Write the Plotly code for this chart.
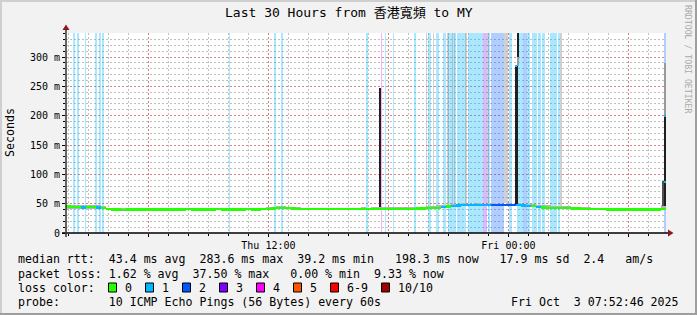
import pandas as pd
import plotly.graph_objects as go

# ---------------- data ----------------
START = "2025-10-02 01:52:46"
END = "2025-10-03 07:52:46"
STEP_MIN = 15
Y_TOP = 341

TITLE = "Last 30 Hours from 香港寬頻 to MY"
Y_LABEL = "Seconds"
WATERMARK = "RRDTOOL / TOBI OETIKER"

x_tick_times = ["2025-10-02 06:00", "2025-10-02 12:00", "2025-10-02 18:00",
                "2025-10-03 00:00", "2025-10-03 06:00"]
x_tick_text = ["", "Thu 12:00", "", "Fri 00:00", ""]
y_tick_vals = [0, 50, 100, 150, 200, 250, 300]
y_tick_text = ["0", "50 m", "100 m", "150 m", "200 m", "250 m", "300 m"]

# median rtt (ms), one value per 15-minute step
median_ms = [45.5, 44.5, 45, 44, 44.5, 45, 44, 43.5,
             41.0, 40.5, 40.5, 40.2, 40.5, 40.3, 40.5, 40.6, 40.4, 40.5, 40.3,
             40.5, 40.6, 40.5, 40.4, 40.5, 40.8, 40.6, 40.5, 40.7, 40.5, 40.6,
             40.8, 40.6, 40.5, 40.7, 40.6, 40.5, 40.8, 40.6, 40.7, 40.9, 41.0,
             42.0, 42.5, 43.0, 42.5, 42.0, 41.5,
             41.2, 41.0, 40.8, 41.0, 40.9, 41.2, 41.0, 40.8, 41.0, 41.1, 40.9,
             41.0, 41.3, 41.0, 41.2, 41.5,
             41.5, 41.3, 41.0, 41.2, 41.5, 41.8, 41.6, 42.0, 42.2, 42.5, 43.0, 43.5,
             44.5, 45.5, 46.5,
             47.5, 48, 48, 48, 48, 48, 48, 48.2, 48.2, 48.2, 48.2, 48.2,
             48.0,
             47.5, 47, 46, 45,
             44, 43.5, 43.5, 43, 42.8, 42.5, 42.2, 42, 41.8, 41.5, 41.3, 41,
             40.8, 40.6, 40.5, 40.5, 40.4, 40.5, 40.5, 40.4, 40.5, 40.5, 40.4, 40.5,
             41]

smoke_lo_ms = [41, 41, 41.5, 41, 41, 41.5, 41, 41,
               39.8, 39.6, 39.5, 39.4, 39.6, 39.5, 39.6, 39.7, 39.5, 39.6, 39.4,
               39.6, 39.7, 39.6, 39.5, 39.6, 39.8, 39.7, 39.6, 39.8, 39.6, 39.7,
               39.8, 39.7, 39.6, 39.8, 39.7, 39.6, 39.9, 39.7, 39.8, 40.0, 40.1,
               40.5, 41, 41.5, 41, 40.5, 40.2,
               40.0, 39.8, 39.6, 39.8, 39.7, 40.0, 39.8, 39.6, 39.8, 39.9, 39.7,
               39.8, 40.1, 39.8, 40.0, 40.3,
               40.3, 40.1, 39.8, 40.0, 40.3, 40.5, 40.4, 40.7, 40.9, 41.2, 41.6, 42.0,
               42.8, 43.5, 44.5,
               46.0, 46.5, 46.5, 46.5, 46.5, 46.5, 46.5, 46.8, 46.8, 46.8, 46.8, 46.8,
               46.5,
               45.5, 44.5, 43.5, 42.5,
               41.8, 41.5, 41.3, 41.0, 40.8, 40.6, 40.4, 40.2, 40.0, 39.8, 39.7, 39.6,
               39.5, 39.4, 39.3, 39.3, 39.2, 39.3, 39.3, 39.2, 39.3, 39.3, 39.2, 39.3,
               39.5]

smoke_hi_ms = [48, 47.5, 48, 47, 47.5, 48, 47, 46,
               43, 42, 42, 42, 42.5, 42, 42, 42, 42, 42.5, 42,
               42, 42, 43, 42, 42, 42.5, 42, 42, 42, 42, 42.5,
               42, 42, 42, 42, 42.5, 42, 42, 43, 42.5, 43, 43.5,
               45, 45.5, 46, 45, 44.5, 44,
               43, 42.5, 42.5, 42.5, 43, 43, 42.5, 42.5, 43, 43, 42.5,
               43, 43.5, 43, 43.5, 45,
               44, 44, 43.5, 44, 44.5, 44.5, 44, 45, 45, 45.5, 46, 47,
               47.5, 48.5, 49.5,
               50, 50.5, 50, 50, 50.5, 50, 50, 50.5, 50, 50, 50.5, 50,
               51,
               50, 50, 49, 48.5,
               47.5, 47, 46.5, 46, 46, 45.5, 45, 44.5, 44, 43.5, 43, 42.5,
               42, 42, 41.5, 41.5, 41.5, 41.5, 41.5, 41.5, 41.5, 41.5, 41.5, 41.5,
               48]

# packet-loss level (index into loss legend) per 15-minute step
loss_level = [int(c) for c in
              "00010010"
              "000000000000000000000000000000000"
              "000000"
              "0000000000000000"
              "000000000000"
              "101"
              "111111122222"
              "1"
              "1101"
              "000000000000"
              "000000000000"
              "0"]

# loss bars spanning the full graph height (minutes after START)
band_start_min = [21, 33, 57, 87, 99, 108, 489, 624, 645, 900, 945, 957, 981,
                  1044, 1086, 1110, 1131, 1146, 1173, 1206, 1251, 1266, 1275,
                  1329, 1353, 1371, 1383, 1398, 1416, 1428, 1452, 1476, 1794]
band_end_min = [27, 39, 60, 93, 105, 114, 492, 630, 651, 906, 948, 960, 984,
                1050, 1095, 1119, 1140, 1170, 1200, 1251, 1263, 1272, 1314,
                1338, 1371, 1383, 1392, 1413, 1425, 1437, 1473, 1482, 1800]
band_level = [1, 1, 1, 1, 1, 1, 1, 1, 1, 1, 4, 1, 1,
              1, 1, 1, 1, 1, 1, 1, 3, 1, 2,
              1, 1, 2, 1, 1, 1, 1, 1, 1, 2]

# smoke reaching beyond the top of the graph (minutes after START, duration)
tall_smoke_min = [1081, 1101, 1146, 1158, 1165, 1201, 1266, 1320, 1485]
tall_smoke_dur = [3, 3, 5, 3, 3, 6, 4, 12, 5]

# rtt spikes (minutes after START)
spike_min = [943, 1352, 1357, 1356, 1792, 1797, 1798]
spike_dur = [3, 5, 3, 3, 9, 5, 3]
spike_lo_ms = [44, 48, 300, 285, 46, 46, 200]
spike_hi_ms = [248, 285, 345, 300, 88, 200, 290]
spike_kind = ["core", "core", "core", "halo", "mid", "core", "halo"]

mark_min = [1350, 1797, 1796]
mark_ms = [285, 200, 88]

rtt_line = "median rtt:  43.4 ms avg  283.6 ms max  39.2 ms min   198.3 ms now   17.9 ms sd  2.4   am/s"
loss_line = "packet loss: 1.62 % avg  37.50 % max   0.00 % min  9.33 % now"
probe_line = "probe:       10 ICMP Echo Pings (56 Bytes) every 60s"
stamp = "Fri Oct  3 07:52:46 2025"
loss_labels = ["0", "1", "2", "3", "4", "5", "6-9", "10/10"]

# ---------------- styles ----------------
LOSS_COLORS = ["#26ff00", "#00b8ff", "#0059ff", "#7e00ff", "#ff00ff",
               "#ff5500", "#ff0000", "#a10000"]
LOSS_BAND = ["rgba(38,255,0,0.33)", "rgba(0,184,255,0.33)", "rgba(0,89,255,0.30)",
             "rgba(126,0,255,0.28)", "rgba(255,0,255,0.33)", "rgba(255,85,0,0.33)",
             "rgba(255,0,0,0.33)", "rgba(161,0,0,0.33)"]
SPIKE_COLORS = {"core": "#202020", "mid": "#505050", "halo": "#9a9a9a"}
MONO = "DejaVu Sans Mono, Noto Sans CJK TC, monospace"

W_PX, H_PX = 697, 315
L, R, T, B = 66, 666, 33, 233
PW, PH = R - L, B - T


def PX(x):
    return (x - L) / PW


def PY(y):
    return (B - y) / PH


t0 = pd.Timestamp(START)
MS_PER_MIN = 60000


def at(minutes):
    return t0 + pd.to_timedelta(minutes, unit="m")


n = len(median_ms)
centers = [at((i + 0.5) * STEP_MIN) for i in range(n)]
step_w = [STEP_MIN * MS_PER_MIN] * n

fig = go.Figure()

# loss bars
fig.add_trace(go.Bar(
    x=[at((s + e) / 2) for s, e in zip(band_start_min, band_end_min)],
    y=[Y_TOP + 10] * len(band_start_min), base=0,
    width=[(e - s) * MS_PER_MIN for s, e in zip(band_start_min, band_end_min)],
    marker=dict(color=[LOSS_BAND[l] for l in band_level], line=dict(width=0)),
    hoverinfo="skip", showlegend=False))

# tall smoke
tall_base = []
for m in tall_smoke_min:
    idx = min(int(m // STEP_MIN), n - 1)
    tall_base.append(smoke_hi_ms[idx])
fig.add_trace(go.Bar(
    x=[at(m) for m in tall_smoke_min],
    y=[Y_TOP + 10 - b for b in tall_base], base=tall_base,
    width=[d * MS_PER_MIN for d in tall_smoke_dur],
    marker=dict(color="rgba(150,150,150,0.45)", line=dict(width=0)),
    hoverinfo="skip", showlegend=False))

# smoke around the median
fig.add_trace(go.Bar(
    x=centers, y=[h - l for l, h in zip(smoke_lo_ms, smoke_hi_ms)], base=smoke_lo_ms,
    width=step_w, marker=dict(color="#b4b4b4", line=dict(width=0)),
    hoverinfo="skip", showlegend=False))

# spikes
fig.add_trace(go.Bar(
    x=[at(m) for m in spike_min],
    y=[h - l for l, h in zip(spike_lo_ms, spike_hi_ms)], base=spike_lo_ms,
    width=[d * MS_PER_MIN for d in spike_dur],
    marker=dict(color=[SPIKE_COLORS[k] for k in spike_kind], line=dict(width=0)),
    hoverinfo="skip", showlegend=False))

# median line coloured by loss
MED_T = 3.0
fig.add_trace(go.Bar(
    x=centers, y=[MED_T] * n, base=[m - MED_T / 2 for m in median_ms],
    width=step_w, marker=dict(color=[LOSS_COLORS[l] for l in loss_level], line=dict(width=0)),
    hoverinfo="skip", showlegend=False))

fig.add_trace(go.Bar(
    x=[at(m) for m in mark_min], y=[3] * len(mark_min), base=[v - 1.5 for v in mark_ms],
    width=[4 * MS_PER_MIN] * len(mark_min),
    marker=dict(color=LOSS_COLORS[1], line=dict(width=0)),
    hoverinfo="skip", showlegend=False))

MAJOR_GRID = "rgba(225,110,110,0.75)"
MINOR_GRID = "rgba(175,175,175,0.8)"

fig.update_layout(
    width=W_PX, height=H_PX, autosize=False,
    margin=dict(l=L, r=W_PX - R, t=T, b=H_PX - B, pad=0),
    paper_bgcolor="#f2f2f2", plot_bgcolor="#ffffff",
    barmode="overlay", bargap=0, showlegend=False,
    font=dict(family=MONO, size=10, color="#000"),
    xaxis=dict(
        type="date", range=[START, END], fixedrange=True,
        tickmode="array", tickvals=x_tick_times, ticktext=x_tick_text,
        showgrid=True, gridcolor=MAJOR_GRID, griddash="2px,2px", gridwidth=1,
        ticks="outside", ticklen=3, tickcolor="#000", showline=False, zeroline=False,
        tickfont=dict(family=MONO, size=10, color="#000"),
        minor=dict(tickmode="linear", tick0="2025-10-02 00:00", dtick=3600000,
                   showgrid=True, gridcolor=MINOR_GRID, griddash="2px,2px",
                   ticks="outside", ticklen=2, tickcolor="#000"),
    ),
    yaxis=dict(
        range=[0, Y_TOP], fixedrange=True,
        tickmode="array", tickvals=y_tick_vals, ticktext=y_tick_text,
        showgrid=True, gridcolor=MAJOR_GRID, griddash="2px,2px", gridwidth=1,
        ticks="outside", ticklen=3, tickcolor="#000", showline=False, zeroline=False,
        tickfont=dict(family=MONO, size=10, color="#000"),
        minor=dict(tickmode="linear", tick0=0, dtick=10,
                   showgrid=True, gridcolor=MINOR_GRID, griddash="2px,2px",
                   ticks="outside", ticklen=2, tickcolor="#000"),
    ),
)

shapes = []
# axes
shapes.append(dict(type="line", xref="paper", yref="paper",
                   x0=PX(62), x1=PX(668), y0=PY(233), y1=PY(233),
                   line=dict(color="#000", width=1.5)))
shapes.append(dict(type="line", xref="paper", yref="paper",
                   x0=PX(66), x1=PX(66), y0=PY(237), y1=PY(29),
                   line=dict(color="#333", width=1.5)))
ARROW = "#8b1a1a"
shapes.append(dict(type="path", xref="paper", yref="paper",
                   path=f"M {PX(668)} {PY(229.5)} L {PX(673.5)} {PY(233)} L {PX(668)} {PY(236.5)} Z",
                   fillcolor=ARROW, line=dict(width=0)))
shapes.append(dict(type="path", xref="paper", yref="paper",
                   path=f"M {PX(62.5)} {PY(30)} L {PX(66)} {PY(24.5)} L {PX(69.5)} {PY(30)} Z",
                   fillcolor=ARROW, line=dict(width=0)))
# 3D frame
shapes.append(dict(type="line", xref="paper", yref="paper", x0=PX(0), x1=PX(697),
                   y0=PY(1), y1=PY(1), line=dict(color="#cfcfcf", width=2)))
shapes.append(dict(type="line", xref="paper", yref="paper", x0=PX(1), x1=PX(1),
                   y0=PY(0), y1=PY(315), line=dict(color="#cfcfcf", width=2)))
shapes.append(dict(type="line", xref="paper", yref="paper", x0=PX(0), x1=PX(697),
                   y0=PY(314), y1=PY(314), line=dict(color="#9e9e9e", width=2)))
shapes.append(dict(type="line", xref="paper", yref="paper", x0=PX(696), x1=PX(696),
                   y0=PY(0), y1=PY(315), line=dict(color="#9e9e9e", width=2)))

annotations = []


def text(x, y, s, size=11.6, anchor="left", color="#000", angle=0):
    annotations.append(dict(xref="paper", yref="paper", x=PX(x), y=PY(y), text=s,
                            showarrow=False, xanchor=anchor, yanchor="middle",
                            textangle=angle,
                            font=dict(family=MONO, size=size, color=color)))


text(348.5, 12, TITLE, size=13, anchor="center")
text(10, 133, Y_LABEL, size=11.6, anchor="center", angle=-90)
text(688, 59, WATERMARK, size=8.2, anchor="center", color="#aaaaaa", angle=90)

LEG_X = 16
CW = 7.0
text(LEG_X, 259, rtt_line.replace(" ", "&nbsp;"))
text(LEG_X, 273.5, loss_line.replace(" ", "&nbsp;"))
text(LEG_X, 288, "loss color:")
text(LEG_X, 302, probe_line.replace(" ", "&nbsp;"))
text(681, 302, stamp.replace(" ", "&nbsp;"), anchor="right")

bx = 108
for lab, col in zip(loss_labels, LOSS_COLORS):
    shapes.append(dict(type="rect", xref="paper", yref="paper",
                       x0=PX(bx + 0.5), x1=PX(bx + 8.5), y0=PY(292), y1=PY(283),
                       fillcolor=col, line=dict(color="#000", width=1)))
    text(bx + 15, 288, lab)
    bx = bx + 15 + len(lab) * CW + 15

fig.update_layout(shapes=shapes, annotations=annotations)
fig.write_html("out.html")
